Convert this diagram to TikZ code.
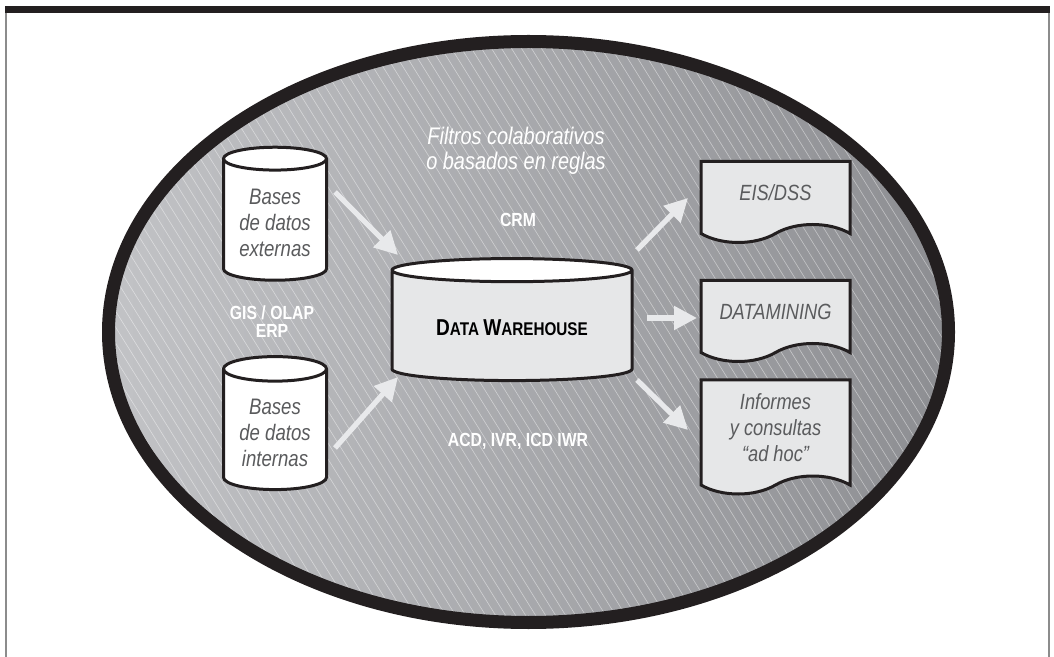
\documentclass[tikz,border=0pt]{standalone}
\usepackage{fontspec}
\setmainfont{Liberation Sans}[FakeStretch=0.83]
\usetikzlibrary{shapes.geometric, shapes.symbols, arrows.meta, calc}

\definecolor{rimblack}{HTML}{231F20}
\definecolor{framegray}{HTML}{8C8C8C}
\definecolor{boxgray}{HTML}{E6E7E8}
\definecolor{textgray}{HTML}{5A5B5D}
\definecolor{arrowgray}{HTML}{E8E9EB}
\definecolor{shadelight}{HTML}{C2C3C6}
\definecolor{shadedark}{HTML}{8D8E92}

\pgfdeclarelayer{background}
\pgfsetlayers{background,main}

\tikzstyle{dbcyl} = [cylinder, shape border rotate=90, draw=rimblack, line width=1.5pt, cylinder uses custom fill, cylinder end fill=white, cylinder body fill=white, text=textgray, align=center, font=\itshape\fontsize{11.2}{13}\selectfont]
\tikzstyle{warehouse} = [dbcyl, cylinder body fill=boxgray, text=black, font=\bfseries]
\tikzstyle{docbox} = [tape, tape bend top=none, tape bend bottom=in and out, tape bend height=9pt, draw=rimblack, line width=1.5pt, fill=boxgray, minimum width=74.5pt, minimum height=40.5pt, text=textgray, align=center, font=\itshape\fontsize{11}{13}\selectfont]
\tikzstyle{onlabel} = [text=white, align=center, font=\bfseries\fontsize{9.5}{9}\selectfont]
\tikzstyle{hatch} = [white, opacity=0.45, line width=0.3pt]
\tikzstyle{flowarrow} = [draw=arrowgray, line width=2.6pt, -{Triangle[length=11.5pt,width=11.5pt]}]

\begin{document}
\begin{tikzpicture}[x=0.5pt, y=-0.5pt, node distance=59.5pt]
\useasboundingbox (0,0) rectangle (1054,657);

% Frame
\fill[rimblack] (5,6) rectangle (1050,13);
\draw[framegray, line width=0.75pt] (6,13) -- (6,657);
\draw[framegray, line width=0.75pt] (1049,13) -- (1049,657);

% Shaded ellipse with hatching
\begin{pgfonlayer}{background}
\shade[left color=shadelight, right color=shadedark] (528.5,332) ellipse [x radius=420, y radius=290.5];
\begin{scope}
\clip (528.5,332) ellipse [x radius=420, y radius=290.5];
\foreach \i in {-30,...,96}
  \draw[hatch] (\i*10,30) -- (\i*10+381,640);
\end{scope}
\draw[rimblack, line width=6.5pt] (528.5,332) ellipse [x radius=420, y radius=290.5];
\end{pgfonlayer}

% Nodes
\node (ext) [dbcyl, minimum width=51.5pt, minimum height=66.5pt, aspect=0.27] at (275,223) {Bases\\de datos\\externas};
\node (int) [dbcyl, minimum width=51.5pt, minimum height=66.5pt, aspect=0.29, below of=ext, node distance=105pt] {Bases\\de datos\\internas};
\node (dw) [warehouse, minimum width=120pt, minimum height=61pt, aspect=0.14] at (512,328) {\fontsize{11.5}{12}\selectfont D\fontsize{9.2}{12}\selectfont ATA \fontsize{11.5}{12}\selectfont W\fontsize{9.2}{12}\selectfont AREHOUSE};

\node (eis) [docbox] at (775.5,193) {EIS/DSS};
\node (dm) [docbox, below of=eis] {DATAMINING};
\node (inf) [docbox, minimum height=57pt, below of=dm, yshift=1.5pt] {Informes\\y consultas\\“ad hoc”};

\node (filtros) [text=white, align=center, font=\itshape\fontsize{12}{12.5}\selectfont] at (516,151) {Filtros colaborativos\\o basados en reglas};
\node (crm) [onlabel] at (518,220) {CRM};
\node (gis) [onlabel] at (272,322) {GIS / OLAP\\ERP};
\node (acd) [onlabel] at (518,441) {ACD, IVR, ICD IWR};

% Arrows
\draw [flowarrow] ($(ext.center)+(60,-31)$) -- ($(dw.center)+(-114,-73)$);
\draw [flowarrow] ($(int.center)+(60,15)$) -- ($(dw.center)+(-114,49)$);
\draw [flowarrow] ($(dw.center)+(125,-78)$) -- ($(eis.center)+(-87.5,5)$);
\draw [flowarrow] ($(dw.center)+(135,-10)$) -- ($(dm.center)+(-78.5,6)$);
\draw [flowarrow] ($(dw.center)+(125,52)$) -- ($(inf.center)+(-87.5,2)$);

\end{tikzpicture}
\end{document}
